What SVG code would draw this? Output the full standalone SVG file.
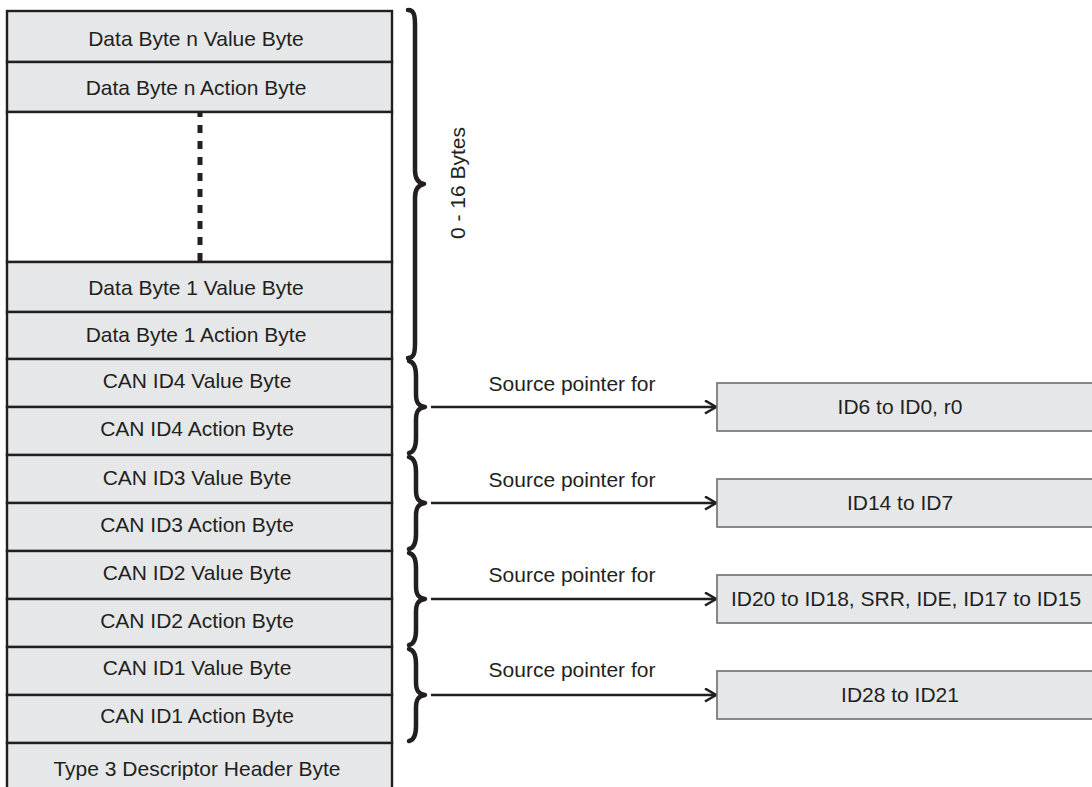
<svg xmlns="http://www.w3.org/2000/svg" width="1092" height="787" viewBox="0 0 1092 787">
<defs>
<style>
.cell{fill:#e6e7e8;stroke:#231f20;stroke-width:2.4}
.blank{fill:#ffffff;stroke:#231f20;stroke-width:2.4}
.t{font-family:"Liberation Sans",Arial,sans-serif;font-size:21px;fill:#231f20;text-anchor:middle}
.ts{font-family:"Liberation Sans",Arial,sans-serif;font-size:21px;fill:#231f20;text-anchor:middle}
.box{fill:#e6e7e8;stroke:#6d6e71;stroke-width:1.6}
.brace{fill:none;stroke:#231f20;stroke-width:4.5;stroke-linecap:round;stroke-linejoin:round}
.arr{fill:none;stroke:#231f20;stroke-width:2.6}
</style>
<marker id="chev" markerWidth="16" markerHeight="16" refX="12" refY="7" orient="auto" markerUnits="userSpaceOnUse">
<path d="M1,0.5 L12,7 L1,13.5" fill="none" stroke="#231f20" stroke-width="2.6"/>
</marker>
</defs>

<g id="column">
<g id="r-dn-value"><rect class="cell" x="7" y="11" width="385" height="51"/><text class="t" x="196" y="46">Data Byte n Value Byte</text></g>
<g id="r-dn-action"><rect class="cell" x="7" y="62" width="385" height="50"/><text class="t" x="196" y="95">Data Byte n Action Byte</text></g>
<g id="r-gap"><rect class="blank" x="7" y="112" width="385" height="150"/>
<line x1="200" y1="112" x2="200" y2="262" stroke="#231f20" stroke-width="5" stroke-dasharray="8 8" stroke-dashoffset="3"/></g>
<g id="r-d1-value"><rect class="cell" x="7" y="262" width="385" height="50"/><text class="t" x="196" y="295">Data Byte 1 Value Byte</text></g>
<g id="r-d1-action"><rect class="cell" x="7" y="312" width="385" height="47"/><text class="t" x="196" y="342">Data Byte 1 Action Byte</text></g>
<g id="r-id4-value"><rect class="cell" x="7" y="359" width="385" height="48"/><text class="t" x="197" y="388">CAN ID4 Value Byte</text></g>
<g id="r-id4-action"><rect class="cell" x="7" y="407" width="385" height="48"/><text class="t" x="197" y="436">CAN ID4 Action Byte</text></g>
<g id="r-id3-value"><rect class="cell" x="7" y="455" width="385" height="48"/><text class="t" x="197" y="485">CAN ID3 Value Byte</text></g>
<g id="r-id3-action"><rect class="cell" x="7" y="503" width="385" height="48"/><text class="t" x="197" y="532">CAN ID3 Action Byte</text></g>
<g id="r-id2-value"><rect class="cell" x="7" y="551" width="385" height="48"/><text class="t" x="197" y="580">CAN ID2 Value Byte</text></g>
<g id="r-id2-action"><rect class="cell" x="7" y="599" width="385" height="48"/><text class="t" x="197" y="628">CAN ID2 Action Byte</text></g>
<g id="r-id1-value"><rect class="cell" x="7" y="647" width="385" height="48"/><text class="t" x="197" y="675">CAN ID1 Value Byte</text></g>
<g id="r-id1-action"><rect class="cell" x="7" y="695" width="385" height="48"/><text class="t" x="197" y="723">CAN ID1 Action Byte</text></g>
<g id="r-header"><rect class="cell" x="7" y="743" width="385" height="60"/><text class="t" x="197" y="776">Type 3 Descriptor Header Byte</text></g>
</g>

<g id="brace-data">
<path class="brace" d="M408,10 C414,10 415,15 415,25 L415,170 C415,179 418,183 424,184 C418,185 415,189 415,198 L415,343 C415,353 414,358 408,358"/>
<text class="ts" transform="translate(465,183) rotate(-90)">0 - 16 Bytes</text>
</g>

<g id="braces-id">
<path class="brace" d="M409,361 C414,362 416,367 416,376 L416,394 C416,402 418,406 425,407 C418,408 416,412 416,420 L416,438 C416,447 414,452 409,453"/>
<path class="brace" d="M409,457 C414,458 416,463 416,472 L416,490 C416,498 418,502 425,503 C418,504 416,508 416,516 L416,534 C416,543 414,548 409,549"/>
<path class="brace" d="M409,553 C414,554 416,559 416,568 L416,586 C416,594 418,598 425,599 C418,600 416,604 416,612 L416,630 C416,639 414,644 409,645"/>
<path class="brace" d="M409,649 C414,650 416,655 416,664 L416,682 C416,690 418,694 425,695 C418,696 416,700 416,708 L416,726 C416,735 414,740 409,741"/>
</g>

<g id="connectors">
<line class="arr" x1="431" y1="407" x2="716" y2="407" marker-end="url(#chev)"/>
<line class="arr" x1="431" y1="503" x2="716" y2="503" marker-end="url(#chev)"/>
<line class="arr" x1="431" y1="599" x2="716" y2="599" marker-end="url(#chev)"/>
<line class="arr" x1="431" y1="695" x2="716" y2="695" marker-end="url(#chev)"/>
<text class="ts" x="572" y="391">Source pointer for</text>
<text class="ts" x="572" y="487">Source pointer for</text>
<text class="ts" x="572" y="582">Source pointer for</text>
<text class="ts" x="572" y="677">Source pointer for</text>
</g>

<g id="target-id6"><rect class="box" x="717" y="383" width="400" height="48"/><text class="t" x="900" y="414">ID6 to ID0, r0</text></g>
<g id="target-id14"><rect class="box" x="717" y="479" width="400" height="48"/><text class="t" x="900" y="510">ID14 to ID7</text></g>
<g id="target-id20"><rect class="box" x="717" y="575" width="400" height="48"/><text class="t" x="906" y="606">ID20 to ID18, SRR, IDE, ID17 to ID15</text></g>
<g id="target-id28"><rect class="box" x="717" y="671" width="400" height="48"/><text class="t" x="900" y="702">ID28 to ID21</text></g>
</svg>
